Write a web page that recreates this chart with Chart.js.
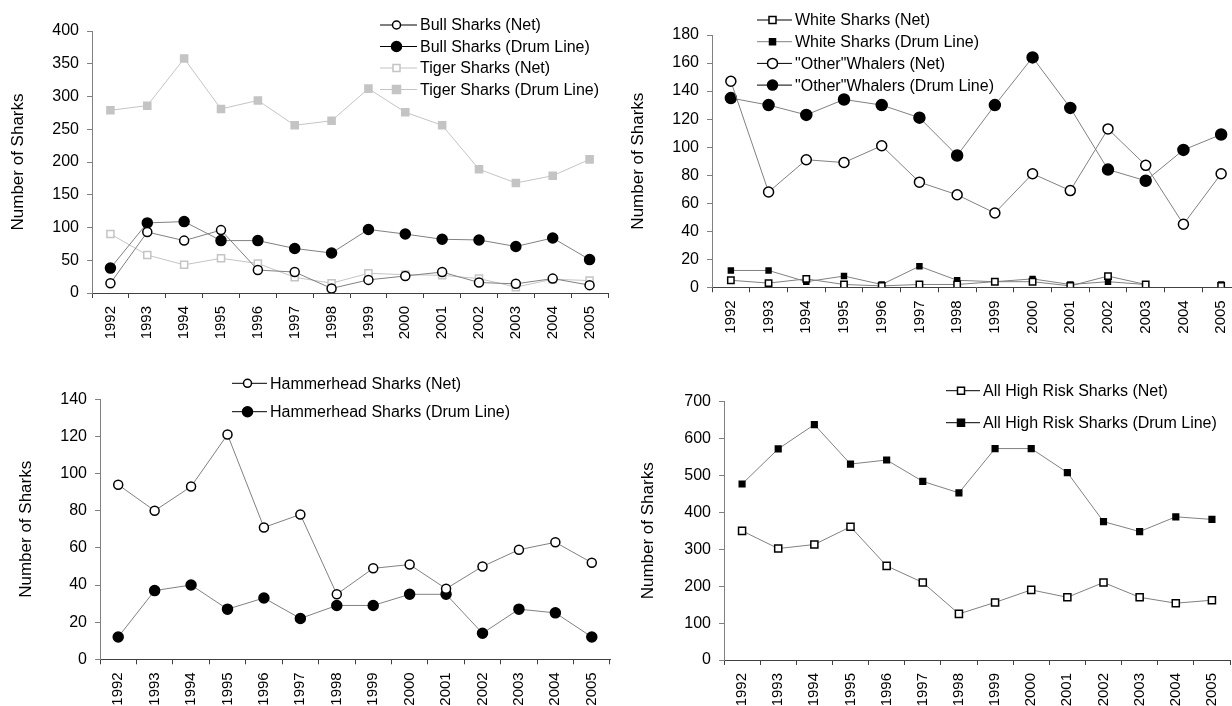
<!DOCTYPE html>
<html>
<head>
<meta charset="utf-8">
<script src="https://cdn.jsdelivr.net/npm/chart.js@4.4.1/dist/chart.umd.min.js"></script>
<style>
html, body { margin: 0; padding: 0; background: #fff; overflow: hidden; width: 1232px; height: 706px; }
canvas { position: absolute; }
</style>
</head>
<body>
<canvas id="c1" width="620" height="353" style="left:0;top:0"></canvas>
<canvas id="c2" width="640" height="353" style="left:620px;top:0"></canvas>
<canvas id="c3" width="620" height="353" style="left:0;top:353px"></canvas>
<canvas id="c4" width="640" height="353" style="left:620px;top:353px"></canvas>
<script>
const years = ['1992', '1993', '1994', '1995', '1996', '1997', '1998', '1999', '2000', '2001', '2002', '2003', '2004', '2005'];

const bullNet = [15, 93, 80, 96, 35, 32, 7, 20, 26, 32, 16, 14, 22, 12];
const bullDrum = [38, 107, 109, 80, 80, 68, 61, 97, 90, 82, 81, 71, 84, 51];
const tigerNet = [90, 58, 43, 53, 45, 24, 15, 30, 28, 27, 22, 9, 21, 19];
const tigerDrum = [279, 286, 358, 281, 294, 256, 263, 312, 276, 256, 189, 168, 179, 204];

const whiteNet = [5, 3, 6, 2, 1, 2, 2, 4, 4, 1, 8, 2, null, 1];
const whiteDrum = [12, 12, 4, 8, 2, 15, 5, 4, 6, 2, 4, 2, null, 2];
const whalerNet = [147, 68, 91, 89, 101, 75, 66, 53, 81, 69, 113, 87, 45, 81];
const whalerDrum = [135, 130, 123, 134, 130, 121, 94, 130, 164, 128, 84, 76, 98, 109];

const hammerNet = [94, 80, 93, 121, 71, 78, 35, 49, 51, 38, 50, 59, 63, 52];
const hammerDrum = [12, 37, 40, 27, 33, 22, 29, 29, 35, 35, 14, 27, 25, 12];

const highRiskNet = [350, 302, 313, 361, 255, 210, 125, 156, 190, 170, 210, 170, 154, 162];
const highRiskDrum = [477, 572, 638, 531, 542, 484, 453, 573, 573, 508, 375, 348, 388, 381];

const FONT = '"Liberation Sans", Arial, sans-serif';
const GREY = '#808080';
const LIGHT = '#c4c4c4';

// draws the legend inside the plot, like the excel original
const boxLegend = {
    id: 'boxLegend',
    afterDraw(chart, args, opts) {
        const ctx = chart.ctx;
        ctx.save();
        ctx.font = '16px ' + FONT;
        ctx.textBaseline = 'middle';
        ctx.textAlign = 'left';
        chart.data.datasets.forEach((ds, i) => {
            const y = opts.y + i * opts.dy;
            ctx.strokeStyle = ds.legendLine;
            ctx.lineWidth = 1;
            ctx.beginPath();
            ctx.moveTo(opts.x, y);
            ctx.lineTo(opts.x + opts.len, y);
            ctx.stroke();
            const mx = opts.x + opts.len / 2 - 2;
            const r = ds.legendRadius;
            ctx.fillStyle = ds.pointBackgroundColor;
            ctx.strokeStyle = ds.pointBorderColor;
            ctx.lineWidth = ds.pointBorderWidth;
            ctx.beginPath();
            if (ds.pointStyle === 'circle') {
                ctx.arc(mx, y, r, 0, Math.PI * 2);
            } else {
                ctx.rect(mx - r, y - r, r * 2, r * 2);
            }
            ctx.fill();
            ctx.stroke();
            ctx.fillStyle = '#000';
            ctx.fillText(ds.label, opts.x + opts.len + 3, y + 1);
        });
        ctx.restore();
    }
};

function series(label, data, style, fill, border, radius, line, legendLine, legendRadius) {
    return {
        label: label,
        data: data,
        borderColor: line,
        borderWidth: 1,
        pointStyle: style,
        pointRadius: radius,
        pointBackgroundColor: fill,
        pointBorderColor: border,
        pointBorderWidth: 1.5,
        legendLine: legendLine,
        legendRadius: legendRadius,
        spanGaps: false,
        tension: 0
    };
}

function makeChart(id, datasets, box) {
    new Chart(document.getElementById(id), {
        type: 'line',
        data: { labels: years, datasets: datasets },
        plugins: [boxLegend],
        options: {
            responsive: false,
            animation: false,
            devicePixelRatio: 1,
            layout: { padding: { top: box.top, right: box.right, left: 0, bottom: 0 } },
            plugins: {
                legend: { display: false },
                tooltip: { enabled: false },
                boxLegend: box.legend
            },
            scales: {
                x: {
                    offset: true,
                    grid: { offset: true, drawOnChartArea: false, tickLength: 5, color: '#404040' },
                    border: { color: '#404040' },
                    ticks: {
                        autoSkip: false,
                        minRotation: 90,
                        maxRotation: 90,
                        padding: 8,
                        color: '#000',
                        font: { family: FONT, size: 15 }
                    },
                    afterFit: (s) => { s.height = box.xh; }
                },
                y: {
                    min: 0,
                    max: box.max,
                    grid: { drawOnChartArea: false, tickLength: 5, color: GREY },
                    border: { color: GREY },
                    ticks: {
                        stepSize: box.step,
                        padding: 8,
                        color: '#000',
                        font: { family: FONT, size: 16 }
                    },
                    title: {
                        display: true,
                        text: 'Number of Sharks',
                        color: '#000',
                        font: { family: FONT, size: 17 },
                        padding: { top: box.titlePad, bottom: 0 }
                    },
                    afterFit: (s) => { s.width = box.yw; }
                }
            }
        }
    });
}

makeChart('c1', [
    series('Bull Sharks (Net)', bullNet, 'circle', '#fff', '#000', 4.5, GREY, '#000', 4),
    series('Bull Sharks (Drum Line)', bullDrum, 'circle', '#000', '#000', 5, GREY, '#000', 5),
    series('Tiger Sharks (Net)', tigerNet, 'rect', '#fff', LIGHT, 5, LIGHT, LIGHT, 3.5),
    series('Tiger Sharks (Drum Line)', tigerDrum, 'rect', LIGHT, LIGHT, 5, LIGHT, LIGHT, 4)
], { top: 31, right: 12, yw: 92, xh: 60, max: 400, step: 50, titlePad: 8.5,
     legend: { x: 380, y: 25, dy: 21.5, len: 37 } });

makeChart('c2', [
    series('White Sharks (Net)', whiteNet, 'rect', '#fff', '#000', 4.5, GREY, '#000', 3.5),
    series('White Sharks (Drum Line)', whiteDrum, 'rect', '#000', '#000', 3.5, GREY, GREY, 3),
    series('"Other"Whalers (Net)', whalerNet, 'circle', '#fff', '#000', 5, GREY, '#000', 5),
    series('"Other"Whalers (Drum Line)', whalerDrum, 'circle', '#000', '#000', 5.5, GREY, '#000', 5)
], { top: 35, right: 20, yw: 92, xh: 65.7, max: 180, step: 20, titlePad: 8,
     legend: { x: 137, y: 20, dy: 21.7, len: 35 } });

makeChart('c3', [
    series('Hammerhead Sharks (Net)', hammerNet, 'circle', '#fff', '#000', 4.5, GREY, '#000', 4),
    series('Hammerhead Sharks (Drum Line)', hammerDrum, 'circle', '#000', '#000', 5, GREY, '#000', 5)
], { top: 46.3, right: 10, yw: 100, xh: 46.7, max: 140, step: 20, titlePad: 16,
     legend: { x: 232, y: 30.3, dy: 28.4, len: 35 } });

makeChart('c4', [
    series('All High Risk Sharks (Net)', highRiskNet, 'rect', '#fff', '#000', 5, GREY, '#000', 3.5),
    series('All High Risk Sharks (Drum Line)', highRiskDrum, 'rect', '#000', '#000', 4, GREY, '#000', 3.5)
], { top: 48.7, right: 30, yw: 104, xh: 46, max: 700, step: 100, titlePad: 18,
     legend: { x: 326, y: 37.7, dy: 32, len: 34 } });
</script>
</body>
</html>
